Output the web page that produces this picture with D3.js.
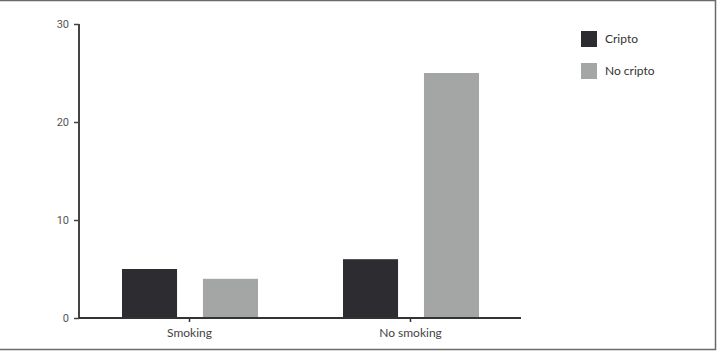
<!DOCTYPE html>
<html>
  <head>
    <meta charset="utf-8">
    <style>
      body {
        margin: 0;
        background-color: white;
      }
    </style>
    <script src="https://d3js.org/d3.v7.min.js"></script>
  </head>
  <body>
    <script>
    var width = 720;
    var height = 352;

    var categories = ["Smoking", "No smoking"];
    var seriesNames = ["Cripto", "No cripto"];
    var cripto = [5, 6];
    var noCripto = [4, 25];
    var yTicks = [0, 10, 20, 30];
    var seriesColors = ["#2c2c31", "#a4a5a5"];

    var rows = categories.map(function(c, i) {
      return {cat: c, values: [cripto[i], noCripto[i]]};
    });

    const svg = d3.select("body").append("svg")
      .attr("width", width)
      .attr("height", height)

    // frame (top, right, bottom only)
    svg.append("path")
      .attr("d", "M0,0.5H715.5V349.5H0")
      .attr("fill", "none")
      .attr("stroke", "#6a6a6a")
      .attr("stroke-width", 1.5)

    let yScale = d3.scaleLinear()
      .domain([0, 30])
      .range([318, 24])
    let xScale = d3.scaleBand()
      .domain(categories)
      .range([79, 521])
    let inner = d3.scaleBand()
      .domain(seriesNames)
      .range([43, 179])
      .paddingInner(0.32)
    let color = d3.scaleOrdinal().domain(seriesNames).range(seriesColors)

    var groups = svg.append("g")
      .selectAll("g")
      .data(rows)
      .enter().append("g")
        .attr("transform", (d) => "translate(" + xScale(d.cat) + ",0)")

    groups.selectAll("rect")
      .data((d) => d.values.map((v, i) => ({key: seriesNames[i], value: v})))
      .enter().append("rect")
        .attr("x", (d) => inner(d.key))
        .attr("width", inner.bandwidth())
        .attr("y", (d) => yScale(d.value))
        .attr("height", (d) => yScale(0) - yScale(d.value))
        .attr("fill", (d) => color(d.key))

    var yAxis = svg.append("g")
      .attr("transform", "translate(79,0)")
      .call(d3.axisLeft(yScale).tickValues(yTicks).tickSize(5).tickPadding(5))
    yAxis.select(".domain").attr("stroke", "#444").attr("stroke-width", 2).attr("d", "M0,24V318")
    yAxis.selectAll(".tick line").attr("stroke", "#444").attr("stroke-width", 1.5)
    yAxis.selectAll("text")
      .attr("font-family", "Roboto, sans-serif")
      .attr("font-size", 11)
      .attr("fill", "#555")

    var xAxis = svg.append("g")
      .attr("transform", "translate(0,318)")
      .call(d3.axisBottom(xScale).tickSize(4).tickPadding(6))
    xAxis.select(".domain").attr("stroke", "#333").attr("stroke-width", 2).attr("d", "M79,0H521")
    xAxis.selectAll(".tick line").attr("stroke", "#333").attr("stroke-width", 1.5)
    xAxis.selectAll("text")
      .attr("font-family", "Lato, sans-serif")
      .attr("font-size", 12)
      .attr("fill", "#444")

    var legend = svg.append("g")
      .selectAll("g")
      .data(seriesNames)
      .enter().append("g")
        .attr("transform", (d, i) => "translate(581," + (31 + i * 32) + ")")
    legend.append("rect")
      .attr("width", 16)
      .attr("height", 16)
      .attr("fill", (d) => color(d))
    legend.append("text")
      .attr("x", 24)
      .attr("y", 12)
      .attr("font-family", "Lato, sans-serif")
      .attr("font-size", 12)
      .attr("fill", "#333")
      .text((d) => d)
    </script>
  </body>
</html>
